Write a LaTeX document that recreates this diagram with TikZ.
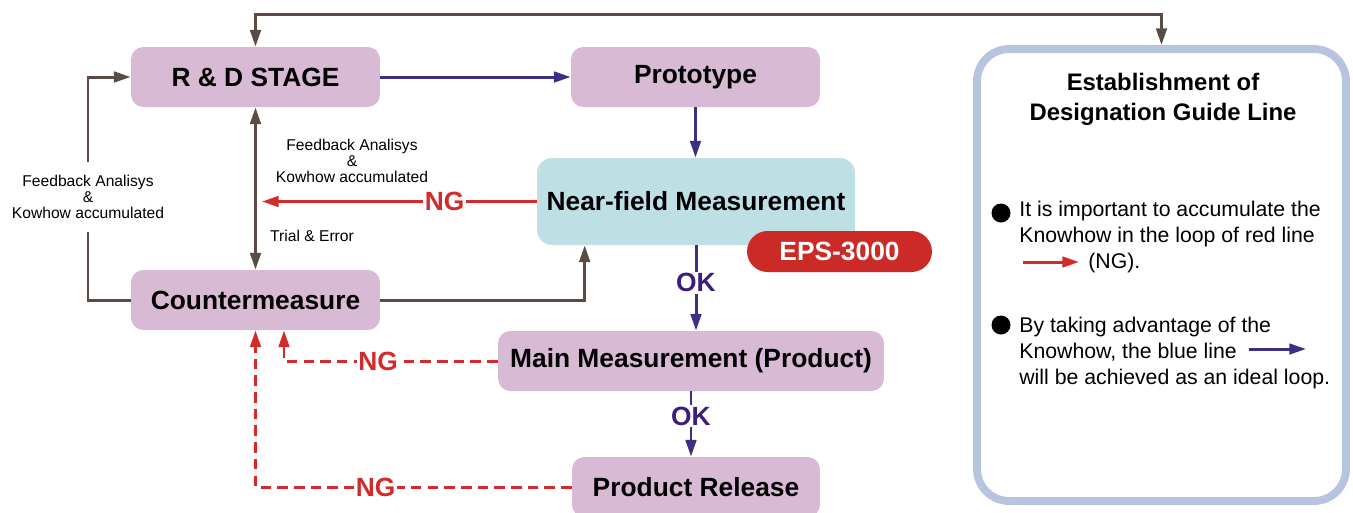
\documentclass[tikz,border=0pt]{standalone}
\usepackage{fontspec}
\setmainfont{Liberation Sans}
\usetikzlibrary{arrows.meta,positioning}

\definecolor{stagefill}{HTML}{D8BAD5}
\definecolor{nearfill}{HTML}{BEE0E5}
\definecolor{epsred}{HTML}{CB2A27}
\definecolor{ngred}{HTML}{D32B2B}
\definecolor{flowblue}{HTML}{3B2F86}
\definecolor{okpurple}{HTML}{3E1D7A}
\definecolor{loopbrown}{HTML}{5A4B45}
\definecolor{guideframe}{HTML}{B8C3DF}

\begin{document}
\begin{tikzpicture}[
    x=0.02cm, y=-0.02cm,
    >={Triangle[length=9.5pt,width=6pt]},
    boxfont/.style={font=\fontsize{15}{18}\selectfont\bfseries},
    stage/.style={boxfont, fill=stagefill, rounded corners=7pt, minimum width=4.98cm, minimum height=1.2cm},
    measure/.style={boxfont, fill=nearfill, rounded corners=8.5pt, minimum width=6.36cm, minimum height=1.74cm},
    badge/.style={boxfont, fill=epsred, text=white, rounded corners=0.41cm, minimum width=3.7cm, minimum height=0.82cm},
    note/.style={font=\fontsize{8.9}{9.2}\selectfont, align=center, inner sep=0pt},
    ok/.style={boxfont, text=okpurple, fill=white, inner sep=1pt},
    ng/.style={boxfont, text=ngred, fill=white, inner sep=1pt},
    flow/.style={->, draw=flowblue, line width=1.7pt},
    loop/.style={->, draw=loopbrown, line width=1.7pt},
    fail/.style={->, draw=ngred, line width=1.7pt},
    faildash/.style={fail, dash pattern=on 6pt off 3.5pt},
    guide/.style={draw=guideframe, line width=4.5pt, rounded corners=0.64cm, minimum width=7.38cm, minimum height=9.04cm},
    legend/.style={font=\fontsize{12.1}{14.8}\selectfont, align=left, anchor=north west, inner sep=0pt},
    dot/.style={circle, fill=black, minimum size=0.38cm, inner sep=0pt}]

  \useasboundingbox (0,0) rectangle (1353,512);

  % process boxes
  \node[stage] (rd) at (255.5,77) {R \& D STAGE};
  \node[stage] (proto) at (695.5,77) {Prototype};
  \node[measure] (near) at (696,201.5) {Near-field Measurement};
  \node[badge] (eps) at (839.5,251.5) {EPS-3000};
  \node[stage] (counter) at (255.5,300) {Countermeasure};
  \node[stage, minimum width=7.72cm] (main) at (691,361) {Main Measurement (Product)};
  \node[stage, minimum width=4.96cm] (release) at (696,487) {Product Release};

  % guide line panel
  \node[guide] (guide) at (1161.5,275) {};
  \node[font=\fontsize{13.6}{17}\selectfont\bfseries, align=center, anchor=north, inner sep=0pt] (title)
    at (1163,73) {Establishment of\\Designation Guide Line};
  \node[dot] (dot1) at (1001,213) {};
  \node[legend] (item1) at (1019,201) {It is important to accumulate the\\Knowhow in the loop of red line\\\hspace{1.38cm}(NG).};
  \node[dot] (dot2) at (1001,325) {};
  \node[legend] (item2) at (1019,316.5) {By taking advantage of the\\Knowhow, the blue line\\will be achieved as an ideal loop.};
  \coordinate (ngtail) at (1023,262);
  \coordinate (nghead) at (1079,262);
  \coordinate (oktail) at (1249,349);
  \coordinate (okhead) at (1306,349);
  \draw[fail] (ngtail) -- (nghead);
  \draw[flow] (oktail) -- (okhead);

  % small labels
  \node[note] (fbinner) at (352,161) {Feedback Analisys\\\&\\Kowhow accumulated};
  \node[note] (trial) at (312,236) {Trial \& Error};
  \node[note, inner ysep=7pt] (fbouter) at (88,197) {Feedback Analisys\\\&\\Kowhow accumulated};

  % ideal loop
  \draw[flow] (rd) -- (proto);
  \draw[flow] (proto.south) -- (proto.south |- near.north);
  \draw[flow] (near.south) -- node[ok, pos=.44] {OK} (near.south |- main.north);
  \draw[flow] (main.south) -- node[ok, pos=.38] {OK} (main.south |- release.north);

  % feedback loops
  \coordinate (top) at (0,14);
  \coordinate (ngend) at (262,201.5);
  \draw[loop, <->] (guide.north) -- (guide.north |- top) -| (rd.north);
  \draw[loop, <->] (rd.south) -- (counter.north);
  \draw[loop, -] (counter.west) -| (fbouter.south);
  \draw[loop] (fbouter.north) |- (rd.west);
  \draw[loop] (counter.east) -| ([xshift=0.96cm]near.south west);
  \draw[fail] (near.west) -- node[ng, pos=.335] {NG} (ngend);
  \draw[faildash] (main.west) -| node[ng, pos=.28] {NG} ([xshift=0.57cm]counter.south);
  \draw[faildash] (release.west) -| node[ng, pos=.31] {NG} (counter.south);
\end{tikzpicture}
\end{document}
